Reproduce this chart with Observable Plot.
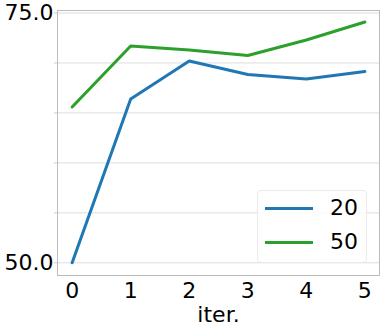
<!DOCTYPE html>
<html>
<head>
<meta charset="utf-8">
<script src="https://cdn.jsdelivr.net/npm/d3@7"></script>
<script src="https://cdn.jsdelivr.net/npm/@observablehq/plot@0.6"></script>
<style>
  html, body { margin: 0; padding: 0; background: #fff; }
  #wrap { position: relative; width: 383px; height: 328px; font-family: "DejaVu Sans", sans-serif; }
  #legend { position: absolute; left: 257px; top: 190px; width: 108px; height: 71px; border: 1px solid #eaeaea; border-radius: 4px; background: rgba(255,255,255,0.8); }
  .item { position: absolute; left: 0; height: 24px; width: 108px; }
  .item .sw { position: absolute; left: 7px; top: 11px; width: 48px; height: 3px; }
  .item .lb { position: absolute; left: 72px; top: 0; font-size: 22px; line-height: 24px; color: #000; }
</style>
</head>
<body>
<div id="wrap"></div>
<script>
const iters = [0, 1, 2, 3, 4, 5];
const seriesNames = ["20", "50"];
const values20 = [50.0, 66.4, 70.2, 68.85, 68.4, 69.15];
const values50 = [65.6, 71.7, 71.3, 70.75, 72.3, 74.1];
const colors = ["#1f77b4", "#2ca02c"];
const gridTicks = [50, 55, 60, 65, 70, 75];
const labeledTicks = [50, 75];
const xLabel = "iter.";

const rows = [];
iters.forEach((it, i) => {
  rows.push({iter: it, value: values20[i], series: seriesNames[0]});
  rows.push({iter: it, value: values50[i], series: seriesNames[1]});
});

const chart = Plot.plot({
  width: 383,
  height: 328,
  marginLeft: 57,
  marginTop: 10,
  marginRight: 4,
  marginBottom: 53,
  style: {fontFamily: "DejaVu Sans, sans-serif", fontSize: "22px", color: "#000", background: "#fff"},
  x: {domain: [-0.25, 5.25]},
  y: {domain: [48.73, 75.25]},
  color: {domain: seriesNames, range: colors},
  marks: [
    Plot.gridY(gridTicks, {stroke: "#dddddd", strokeOpacity: 1}),
    Plot.frame({stroke: "#bbbbbb"}),
    Plot.axisY(gridTicks, {
      tickSize: 3, tickPadding: 1, stroke: "#cccccc",
      tickFormat: d => labeledTicks.includes(d) ? d.toFixed(1) : "",
      fontSize: 22, fill: "#000", label: null
    }),
    Plot.axisX(iters, {
      tickSize: 0, tickPadding: 7, fontSize: 22, fill: "#000",
      label: xLabel, labelAnchor: "center", labelArrow: "none", labelOffset: 46
    }),
    Plot.line(rows, {x: "iter", y: "value", stroke: "series", strokeWidth: 3, z: "series"})
  ]
});
document.getElementById("wrap").appendChild(chart);

const legend = document.createElement("div");
legend.id = "legend";
seriesNames.forEach((name, i) => {
  const item = document.createElement("div");
  item.className = "item";
  item.style.top = (5 + i * 34) + "px";
  const sw = document.createElement("div");
  sw.className = "sw";
  sw.style.background = colors[i];
  const lb = document.createElement("div");
  lb.className = "lb";
  lb.textContent = name;
  item.appendChild(sw);
  item.appendChild(lb);
  legend.appendChild(item);
});
document.getElementById("wrap").appendChild(legend);
</script>
</body>
</html>
